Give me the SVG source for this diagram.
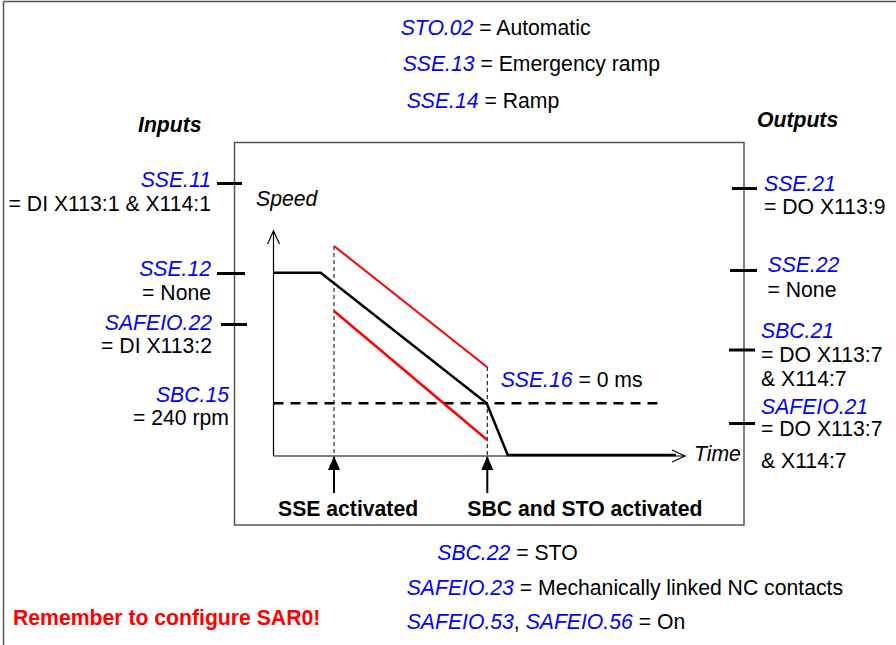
<svg xmlns="http://www.w3.org/2000/svg" width="896" height="645" viewBox="0 0 896 645">
<style>
text{font-family:"Liberation Sans",Arial,sans-serif;font-size:21.2px;fill:#000}
.p{fill:#0000ff;font-style:italic}
.b{font-weight:bold}
.bi{font-weight:bold;font-style:italic}
.i{font-style:italic}
.e{text-anchor:end}
.tick{stroke:#000;stroke-width:3}
.frame{stroke:#555;stroke-width:1.5;fill:none}
</style>
<defs>
<marker id="open" markerWidth="16" markerHeight="14" refX="14" refY="7" orient="auto" markerUnits="userSpaceOnUse">
<path d="M1,1 L14,7 L1,13" fill="none" stroke="#000" stroke-width="1.2"/>
</marker>
<marker id="fill" markerWidth="14" markerHeight="18" refX="13" refY="6" orient="auto" markerUnits="userSpaceOnUse">
<path d="M0,0 L14,6 L0,12 z" fill="#000"/>
</marker>
</defs>
<g id="frame">
<line class="frame" x1="3.5" y1="1.5" x2="896" y2="1.5"/>
<line class="frame" x1="3.5" y1="1.5" x2="3.5" y2="645"/>
<rect class="frame" x="234.5" y="142.5" width="509.5" height="382.5" stroke-width="1.2"/>
</g>
<g id="top-params">
<text x="400.7" y="35"><tspan class="p">STO.02</tspan> = Automatic</text>
<text x="402.7" y="71"><tspan class="p">SSE.13</tspan> = Emergency ramp</text>
<text x="406.7" y="108"><tspan class="p">SSE.14</tspan> = Ramp</text>
</g>
<g id="inputs">
<text class="bi" x="138" y="132">Inputs</text>
<text class="p e" x="211" y="187">SSE.11</text>
<text class="e" x="211" y="211">= DI X113:1 &amp; X114:1</text>
<line class="tick" x1="217" y1="183.5" x2="242" y2="183.5"/>
<text class="p e" x="211" y="276">SSE.12</text>
<text class="e" x="211" y="300">= None</text>
<line class="tick" x1="217" y1="273.5" x2="245" y2="273.5"/>
<text class="p e" x="212" y="330">SAFEIO.22</text>
<text class="e" x="212" y="353">= DI X113:2</text>
<line class="tick" x1="221" y1="324.5" x2="247" y2="324.5"/>
<text class="p e" x="229" y="402">SBC.15</text>
<text class="e" x="229" y="425">= 240 rpm</text>
</g>
<g id="outputs">
<text class="bi" x="757" y="127">Outputs</text>
<line class="tick" x1="732" y1="188.5" x2="757" y2="188.5"/>
<text class="p" x="764" y="191">SSE.21</text>
<text x="764" y="214">= DO X113:9</text>
<line class="tick" x1="730" y1="270.5" x2="757" y2="270.5"/>
<text class="p" x="767.5" y="272">SSE.22</text>
<text x="767.5" y="297">= None</text>
<text class="p" x="761" y="338">SBC.21</text>
<line class="tick" x1="729" y1="350" x2="755" y2="350"/>
<text x="761" y="362">= DO X113:7</text>
<text x="761" y="386">&amp; X114:7</text>
<text class="p" x="761" y="414">SAFEIO.21</text>
<line class="tick" x1="729" y1="423.5" x2="755" y2="423.5"/>
<text x="761" y="436">= DO X113:7</text>
<text x="761" y="468">&amp; X114:7</text>
</g>
<g id="chart">
<line x1="273.5" y1="456" x2="273.5" y2="231" stroke="#000" stroke-width="1.2" marker-end="url(#open)"/>
<line x1="273.5" y1="456" x2="685" y2="456" stroke="#000" stroke-width="1.2" marker-end="url(#open)"/>
<text class="i" x="256" y="206">Speed</text>
<text class="i" x="694" y="461">Time</text>
<line x1="334" y1="246" x2="334" y2="456" stroke="#000" stroke-width="1" stroke-dasharray="4,3"/>
<line x1="487.3" y1="367" x2="487.3" y2="456" stroke="#000" stroke-width="1" stroke-dasharray="4,3"/>
<line x1="273.5" y1="403.3" x2="662" y2="403.3" stroke="#000" stroke-width="2.5" stroke-dasharray="10,7"/>
<line x1="334" y1="246" x2="487.3" y2="367.3" stroke="#ff0000" stroke-width="2"/>
<line x1="334" y1="311" x2="487.3" y2="440" stroke="#ff0000" stroke-width="2.5"/>
<polyline points="273.5,272.7 320.7,272.7 486.7,403.3 507.7,455 676,455" fill="none" stroke="#000" stroke-width="2.5" stroke-linejoin="miter"/>
<text x="500.7" y="387"><tspan class="p">SSE.16</tspan> = 0 ms</text>
</g>
<g id="events">
<line x1="334" y1="493" x2="334" y2="457" stroke="#000" stroke-width="2" marker-end="url(#fill)"/>
<line x1="487.3" y1="493" x2="487.3" y2="457" stroke="#000" stroke-width="2" marker-end="url(#fill)"/>
<text class="b" x="278" y="515.5">SSE activated</text>
<text class="b" x="467.3" y="515.5">SBC and STO activated</text>
</g>
<g id="bottom-params">
<text x="437.3" y="560"><tspan class="p">SBC.22</tspan> = STO</text>
<text x="406.7" y="595"><tspan class="p">SAFEIO.23</tspan> = Mechanically linked NC contacts</text>
<text x="406.7" y="628.5"><tspan class="p">SAFEIO.53</tspan>, <tspan class="p">SAFEIO.56</tspan> = On</text>
<text class="b" x="13" y="625" style="fill:#ff0000">Remember to configure SAR0!</text>
</g>
</svg>
